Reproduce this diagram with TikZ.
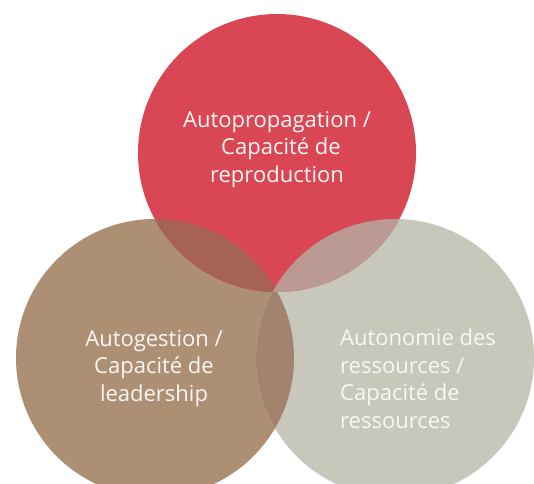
\documentclass[tikz,border=0pt]{standalone}
\usepackage{fontspec}
\setmainfont{Open Sans}
\definecolor{repro}{RGB}{218,71,84}
\definecolor{leader}{RGB}{173,143,116}
\definecolor{ressource}{RGB}{199,199,187}
\definecolor{reproleader}{RGB}{166,98,84}
\definecolor{reproressource}{RGB}{187,154,148}
\definecolor{leaderressource}{RGB}{163,131,110}
\definecolor{labeltext}{RGB}{250,246,244}
\begin{document}
\begin{tikzpicture}[x=1pt,y=-1pt,
  disc/.style={circle,inner sep=0pt,minimum size=278pt},
  lbl/.style={text=labeltext,inner sep=0pt,font=\fontsize{22}{27.5}\selectfont}]
\useasboundingbox (0,0) rectangle (534,483);
\fill[white] (0,0) rectangle (534,483);
% the three circles
\node[disc,fill=leader]    (lead) at (155,358) {};
\node[disc,fill=ressource] (res)  at (395,358) {};
\node[disc,fill=repro]     (rep)  at (277,153) {};
% overlaps
\begin{scope}
  \clip (lead.center) circle (139pt);
  \fill[leaderressource] (res.center) circle (139pt);
\end{scope}
\begin{scope}
  \clip (rep.center) circle (139pt);
  \fill[reproleader] (lead.center) circle (139pt);
\end{scope}
\begin{scope}
  \clip (rep.center) circle (139pt);
  \fill[reproressource] (res.center) circle (139pt);
\end{scope}
% labels (base anchor = baseline of the last line)
\node[lbl,align=center,anchor=base] (t1) at (277,182) {Autopropagation /\\\hspace*{8pt}Capacité de\\reproduction};
\node[lbl,align=center,anchor=base] (t2) at (154,401) {Autogestion /\\Capacité de\\leadership};
\node[lbl,align=left,anchor=base west] (t3) at (340,428) {Autonomie des\\ressources /\\Capacité de\\ressources};
\end{tikzpicture}
\end{document}
